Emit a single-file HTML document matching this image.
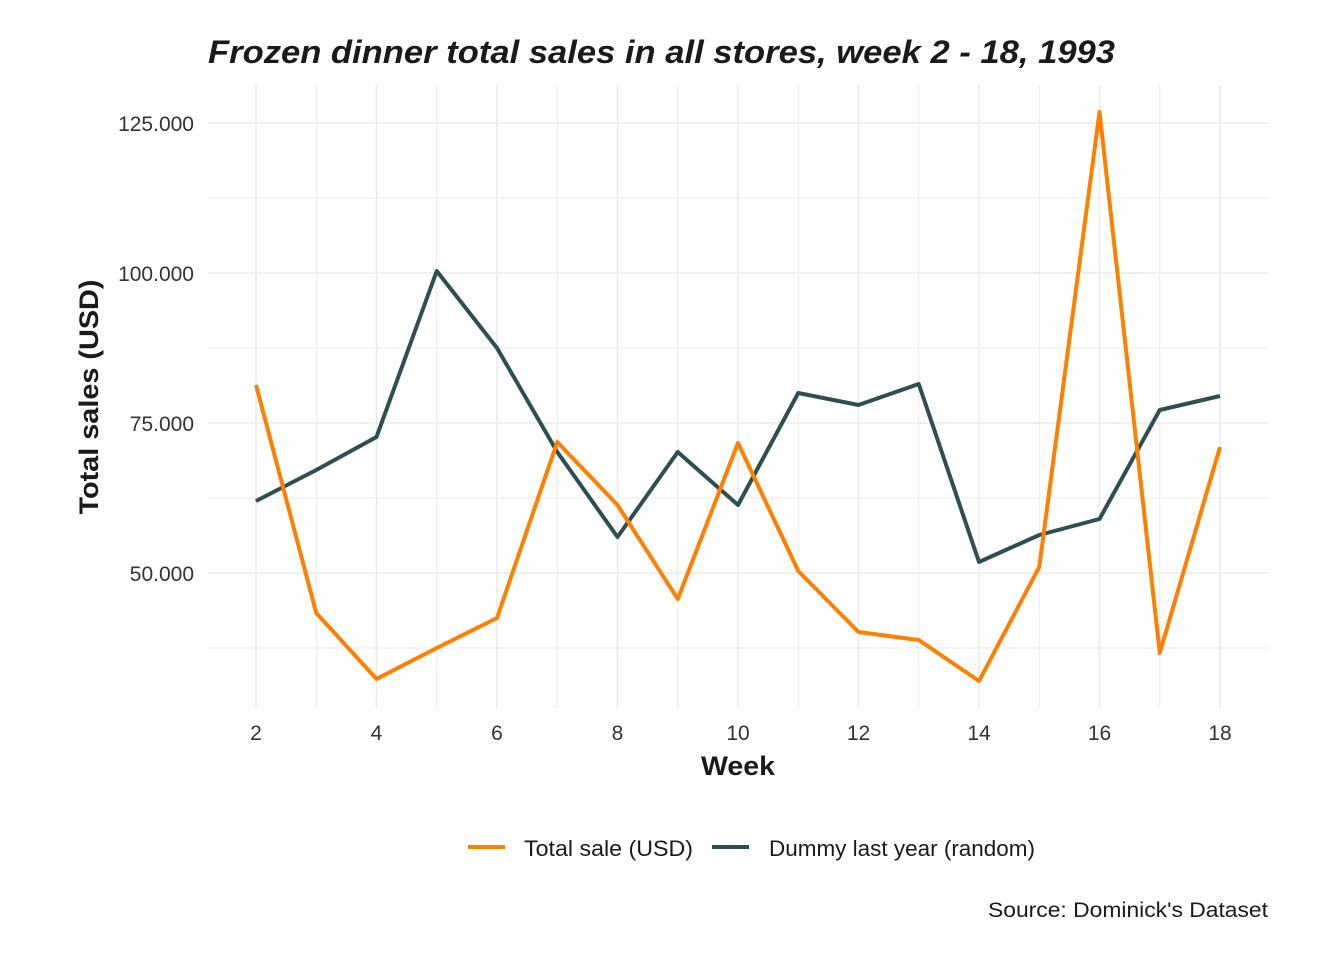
<!DOCTYPE html>
<html><head><meta charset="utf-8"><style>
body{margin:0;background:#fff;}
svg text{font-family:"Liberation Sans",Arial,sans-serif;}
</style></head><body>
<svg id="chart" width="1344" height="960">
<g id="grid"></g>
<g id="lines"></g>
<g id="axes"></g>
<text x="208" y="63" font-size="32" font-weight="bold" font-style="italic" fill="#1a1a1a" textLength="907" lengthAdjust="spacingAndGlyphs">Frozen dinner total sales in all stores, week 2 - 18, 1993</text>
<text x="738" y="775" font-size="27" font-weight="bold" text-anchor="middle" fill="#1a1a1a" textLength="74" lengthAdjust="spacingAndGlyphs">Week</text>
<text transform="translate(98,397) rotate(-90)" font-size="27" font-weight="bold" text-anchor="middle" fill="#1a1a1a" textLength="235" lengthAdjust="spacingAndGlyphs">Total sales (USD)</text>
<g>
<g>
<line x1="468" y1="847" x2="505" y2="847" stroke="#FF7F00" stroke-width="4"/>
<text x="524" y="856" font-size="22" fill="#1a1a1a" textLength="169" lengthAdjust="spacingAndGlyphs">Total sale (USD)</text></g>
<g>
<line x1="712" y1="847" x2="749" y2="847" stroke="#2F4F4F" stroke-width="4"/>
<text x="769" y="856" font-size="22" fill="#1a1a1a" textLength="266" lengthAdjust="spacingAndGlyphs">Dummy last year (random)</text></g>
</g>
<text x="988" y="917" font-size="21" fill="#1a1a1a" textLength="280" lengthAdjust="spacingAndGlyphs">Source: Dominick's Dataset</text>
</svg>
<script>
const weeks=[2,3,4,5,6,7,8,9,10,11,12,13,14,15,16,17,18];
const totalSale=[81333,43333,32333,37500,42500,71833,61333,45667,71667,50333,40167,38833,32000,51000,126833,36667,71000];
const dummyLastYear=[62000,67167,72667,100333,87500,70167,56000,70167,61333,80000,78000,81500,51833,56333,59000,77167,79500];
const xTicks=[2,4,6,8,10,12,14,16,18];
const yTicks=[50000,75000,100000,125000];
const yTickLabels=["50.000","75.000","100.000","125.000"];
const NS="http://www.w3.org/2000/svg";
const x=v=>256+(v-2)*964/16;
const y=v=>123+(125000-v)*0.006;
const L=208,R=1268,T=85,B=708;
function mk(tag,attrs,parent){const e=document.createElementNS(NS,tag);for(const k in attrs)e.setAttribute(k,attrs[k]);parent.appendChild(e);return e;}
const grid=document.getElementById('grid'),axes=document.getElementById('axes'),lines=document.getElementById('lines');
for(let w=2;w<=18;w++){const l=mk('line',{x1:x(w),x2:x(w),y1:T,y2:B,stroke:'#ebebeb','stroke-width':w%2?1:1.6},grid);

}
for(let v=37500;v<=125000;v+=12500){const l=mk('line',{x1:L,x2:R,y1:y(v),y2:y(v),stroke:'#ebebeb','stroke-width':v%25000?1:1.6},grid);

}
xTicks.forEach(t=>{const e=mk('text',{x:x(t),y:740,'font-size':21,'text-anchor':'middle',fill:'#333'},axes);e.textContent=t;

});
yTicks.forEach((t,i)=>{const e=mk('text',{x:194,y:y(t)+8,'font-size':21,'text-anchor':'end',fill:'#333'},axes);e.textContent=yTickLabels[i];

});
function series(vals,color,name){const p=mk('polyline',{points:weeks.map((w,i)=>x(w)+','+y(vals[i])).join(' '),fill:'none',stroke:color,'stroke-width':4,'stroke-linejoin':'round'},lines);

}
series(dummyLastYear,'#2F4F4F','dummy-last-year-line');
series(totalSale,'#FF7F00','total-sale-line');
</script>
</body></html>
